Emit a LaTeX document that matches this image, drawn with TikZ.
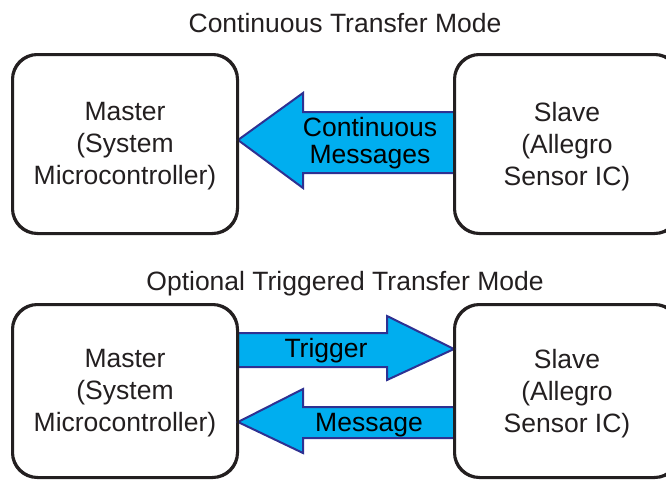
\documentclass[tikz,border=0pt]{standalone}
\usepackage{fontspec}
\setmainfont{Liberation Sans}
\definecolor{boxline}{HTML}{231F20}
\definecolor{arrowfill}{HTML}{00AEEF}
\definecolor{arrowline}{HTML}{2E3192}
\begin{document}
\begin{tikzpicture}[x=1pt,y=-1pt,
  box/.style={draw=boxline, line width=2pt, rounded corners=25pt, minimum width=224pt, inner sep=0pt},
  boxtext/.style={align=center, inner sep=0pt, text=boxline, font=\fontsize{26.5}{32}\selectfont},
  title/.style={text=boxline, font=\fontsize{26.5}{32}\selectfont, inner sep=0pt},
  blockarrow/.style={fill=arrowfill, draw=arrowline, line width=2pt, line join=miter},
  alabel/.style={text=black, align=center, inner sep=0pt, font=\fontsize{26.5}{27}\selectfont}]
\useasboundingbox (0,0) rectangle (666,479);
\begin{scope}
\clip (0,0) rectangle (666,479);
% titles
\node[title] (t1) at (345,23) {Continuous Transfer Mode};
\node[title] (t2) at (345,284) {Optional Triggered Transfer Mode};
% boxes
\node[box, minimum height=178pt] (m1) at (125,144) {};
\node[box, minimum height=178pt] (s1) at (567,144) {};
\node[box, minimum height=172pt] (m2) at (125,391) {};
\node[box, minimum height=172pt] (s2) at (567,391) {};
% top arrow: slave -> master
\draw[blockarrow] (m1.east |- 0,140) -- (303,93) -- (303,112) -- (s1.west |- 0,112)
   -- (s1.west |- 0,173) -- (303,173) -- (303,188) -- cycle;
% trigger arrow: master -> slave
\draw[blockarrow] (s2.west |- 0,349) -- (387,316) -- (387,333) -- (m2.east |- 0,333)
   -- (m2.east |- 0,367) -- (387,367) -- (387,380) -- cycle;
% message arrow: slave -> master
\draw[blockarrow] (m2.east |- 0,422) -- (303,389) -- (303,407) -- (s2.west |- 0,407)
   -- (s2.west |- 0,438) -- (303,438) -- (303,453) -- cycle;
% redraw box outlines over arrows
\foreach \b in {m1,s1,m2,s2}{
  \draw[draw=boxline, line width=2pt, rounded corners=25pt] (\b.north west) rectangle (\b.south east);
}
% box texts
\node[boxtext] (m1t) at ([yshift=-2.5pt]m1.center) {Master\\(System\\Microcontroller)};
\node[boxtext] (s1t) at ([yshift=-2.5pt]s1.center) {Slave\\(Allegro\\Sensor IC)};
\node[boxtext] (m2t) at ([yshift=-2.5pt]m2.center) {Master\\(System\\Microcontroller)};
\node[boxtext] (s2t) at ([yshift=-2.5pt]s2.center) {Slave\\(Allegro\\Sensor IC)};
% arrow labels
\node[alabel] (l1) at (370,143.5) {Continuous\\Messages};
\node[alabel] (l2) at (326,350.5) {Trigger};
\node[alabel] (l3) at (369,425.5) {Message};
\end{scope}
\end{tikzpicture}
\end{document}
